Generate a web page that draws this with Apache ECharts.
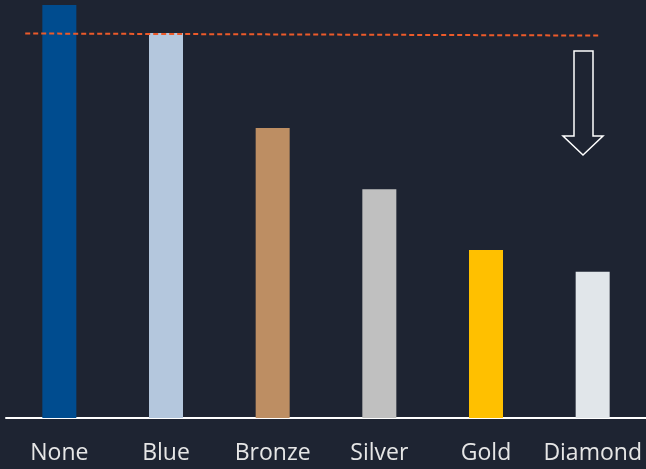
<!DOCTYPE html>
<html><head><meta charset="utf-8">
<script src="https://cdn.jsdelivr.net/npm/echarts@6/dist/echarts.min.js"></script>
<style>html,body{margin:0;padding:0;background:#1e2432;}#c{width:646px;height:469px;}</style>
</head><body><div id="c"></div>
<script>
const categories = ['None','Blue','Bronze','Silver','Gold','Diamond'];
const values = [100, 93.2, 70.2, 55.4, 40.7, 35.4];
const barColors = ['#004c8f','#b4c7dd','#bd8e63','#c0c0c0','#ffc000','#e1e6ea'];
const refLine = [[-0.32, 93.1],[5.06, 92.6]];

const chart = echarts.init(document.getElementById('c'));
chart.setOption({
  backgroundColor:'#1e2432',
  animation:false,
  grid:{left:6,right:0,top:5,bottom:51},
  xAxis:[{
    type:'category', data:categories,
    axisLine:{lineStyle:{color:'#ffffff',width:2}},
    axisTick:{show:false},
    axisLabel:{color:'#e6e6e6',fontSize:23,fontFamily:'Open Sans',margin:24,interval:0,hideOverlap:false}
  },{
    type:'value', min:-0.5, max:5.5, show:false
  }],
  yAxis:{type:'value',min:0,max:100,show:false,splitLine:{show:false}},
  series:[{
    type:'bar', barWidth:34,
    data: values.map((v,i)=>({value:v,itemStyle:{color:barColors[i]}}))
  },{
    type:'line', xAxisIndex:1, data:refLine, symbol:'none',
    lineStyle:{color:'#ec5a2a',width:2,type:[5,3]}
  }],
  graphic:[{
    type:'polygon',
    shape:{points:[[574,51],[593,51],[593,136],[603,136],[583,155],[563,136],[574,136]]},
    style:{fill:'none',stroke:'#ffffff',lineWidth:1.5}
  }]
});
</script></body></html>
